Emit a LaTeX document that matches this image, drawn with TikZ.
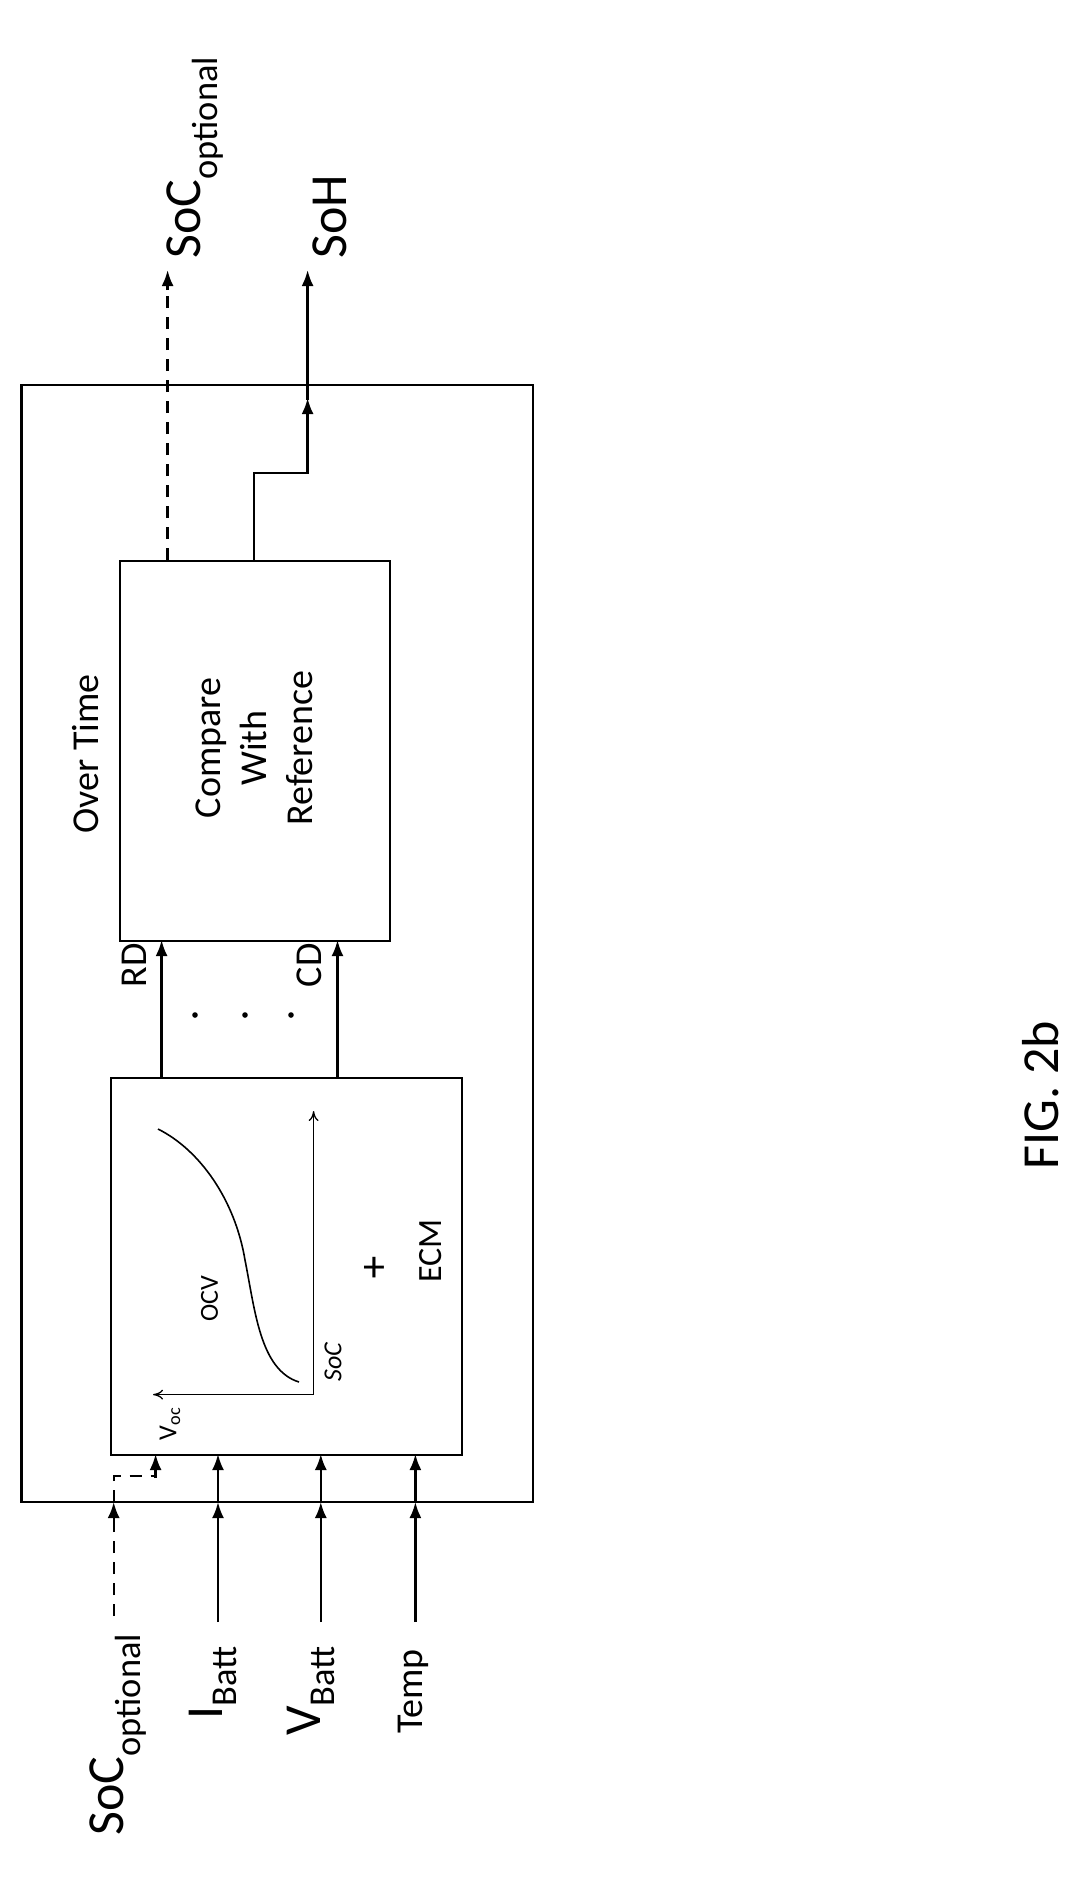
\documentclass[tikz,border=0pt]{standalone}
\usepackage{fontspec}
\setmainfont{Carlito}
\usetikzlibrary{arrows.meta}
\begin{document}
\begin{tikzpicture}[x=1pt,y=-1pt,
 ln/.style={line width=2.4pt},
 ar/.style={ln,-{Latex[length=16pt,width=12pt]}},
 dsh/.style={dash pattern=on 12pt off 9pt},
 big/.style={font=\fontsize{52}{60}\selectfont,rotate=90},
 mid/.style={font=\fontsize{38}{46}\selectfont,rotate=90},
 sm/.style={font=\fontsize{26}{30}\selectfont,rotate=90},
 box/.style={draw,ln}]
\useasboundingbox (0,0) rectangle (1083,1882);
\draw[box] (21.5,385) rectangle (533,1502);
\node[box,minimum width=351pt,minimum height=377pt,anchor=north west] (ecm) at (110,1077) {};
\node[box,minimum width=270.5pt,minimum height=380pt,anchor=north west] (cmp) at (118.5,560) {};
\node[mid,align=center] (ct) at (254,748) {Compare\\With\\Reference};
\node[mid] (ot) at (86,754) {Over Time};
% connections
\coordinate (r1) at (161.6,1077); \coordinate (r2) at (161.6,940);
\coordinate (c1) at (337.5,1077); \coordinate (c2) at (337.5,940);
\draw[ar] (r1) -- (r2); \draw[ar] (c1) -- (c2);
\node[mid,anchor=east] (rd) at (134,940) {RD};
\node[mid,anchor=east] (cd) at (309,940) {CD};
\foreach \x in {195,245,291} \fill (\x,1015) circle (2.8pt);
% outputs
\coordinate (o1) at (167.6,560); \coordinate (o1t) at (167.6,270);
\draw[ln,dsh] (o1) -- (167.6,290);
\draw[ar] (167.6,290) -- (o1t);
\node[big,anchor=west] (socout) at (195,262) {SoC\textsubscript{optional}};
\coordinate (s1) at (253.8,560); \coordinate (s2) at (253.8,473);
\coordinate (s3) at (307.6,473); \coordinate (s4) at (307.6,270);
\draw[ar] (s1) -- (s2) -- (s3) -- (307.6,398);
\draw[ar] (307.6,400) -- (s4);
\node[big,anchor=west] (soh) at (330,262) {SoH};
% inputs
\coordinate (a0) at (113.7,1616); \coordinate (a1) at (113.7,1476);
\coordinate (a2) at (155.6,1476); \coordinate (a3) at (155.6,1454);
\draw[ln,dsh] (a0) -- (113.7,1520);
\draw[ar] (113.7,1530) -- (113.7,1502);
\draw[ln,dsh] (113.7,1502) -- (a1) -- (a2) -- (155.6,1475);
\draw[ar] (155.6,1478) -- (a3);
\foreach \x/\n in {218/i,320.8/v,415.4/t}{
 \draw[ar] (\x,1622) -- (\x,1502);
 \draw[ar] (\x,1502) -- (\x,1454);}
\node[big,anchor=east] (lsoc) at (118,1630) {SoC\textsubscript{optional}};
\node[big,anchor=east] (li) at (213,1642) {I\textsubscript{Batt}};
\node[big,anchor=east] (lv) at (311,1642) {V\textsubscript{Batt}};
\node[mid,anchor=east] (lt) at (413,1646) {Temp};
% ecm content
\coordinate (o) at (313.6,1394.6);
\draw[line width=1.3pt,-{To[length=10pt,width=10pt]}] (o) -- (153,1394.6);
\draw[line width=1.3pt,-{To[length=10pt,width=10pt]}] (o) -- (313.6,1111);
\draw[line width=1.6pt] (299,1382) .. controls (260,1370) and (255,1310) .. (245,1260)
 .. controls (235,1200) and (200,1150) .. (158,1129);
\node[sm,anchor=west] (soc) at (333,1385) {\textit{SoC}};
\node[sm] (voc) at (170,1424) {V\textsubscript{oc}};
\node[sm] (ocv) at (209.5,1299) {OCV};
\node[font=\fontsize{44}{50}\selectfont] (pl) at (374.7,1269) {+};
\node[mid,font=\fontsize{34}{40}\selectfont] (ecmt) at (431,1251) {ECM};
\node[big] (fig) at (1041,1095) {FIG. 2b};
\end{tikzpicture}
\end{document}
